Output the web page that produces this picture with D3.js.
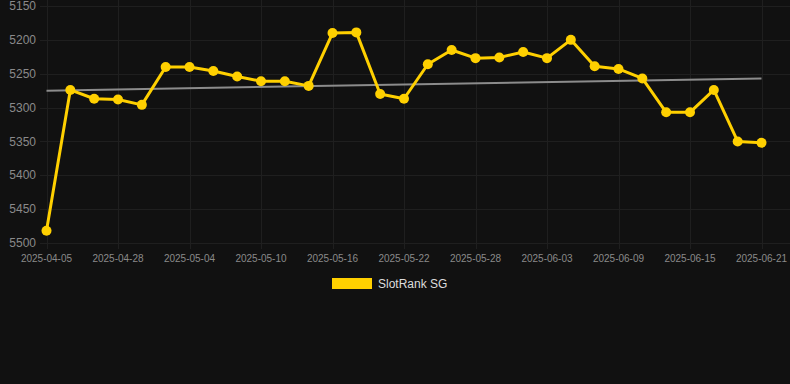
<!DOCTYPE html>
<html>
<head>
    <title>SlotRank SG</title>
    <script src="https://d3js.org/d3.v7.min.js"></script>
    <style>
        body {
            margin: 0;
            padding: 0;
            background: #111111;
            font-family: Arial, "Liberation Sans", sans-serif;
        }
        .grid line {
            stroke: #1f1f1f;
            stroke-width: 1;
        }
        .tick-label {
            fill: #8a8a8a;
        }
        .rank-line {
            fill: none;
            stroke: #ffd000;
            stroke-width: 3;
            stroke-linejoin: round;
        }
        .trend-line {
            stroke: #8c8c8c;
            stroke-width: 2;
        }
        .legend-label {
            fill: #dddddd;
            font-size: 12px;
        }
    </style>
</head>
<body>
    <svg id="chart" width="790" height="384"></svg>
    <script>
        // dates shown on the x axis (one per point)
        const dates = [
            '2025-04-05', '2025-04-24', '2025-04-26', '2025-04-28', '2025-04-30',
            '2025-05-02', '2025-05-04', '2025-05-06', '2025-05-08', '2025-05-10',
            '2025-05-12', '2025-05-14', '2025-05-16', '2025-05-18', '2025-05-20',
            '2025-05-22', '2025-05-24', '2025-05-26', '2025-05-28', '2025-05-30',
            '2025-06-01', '2025-06-03', '2025-06-05', '2025-06-07', '2025-06-09',
            '2025-06-11', '2025-06-13', '2025-06-15', '2025-06-17', '2025-06-19',
            '2025-06-21'
        ];
        // rank values (lower is better, axis reversed)
        const ranks = [
            5482, 5274, 5287, 5288, 5296,
            5240, 5240, 5246, 5254, 5261,
            5261, 5268, 5190, 5189, 5280,
            5287, 5236, 5215, 5227, 5226,
            5218, 5227, 5200, 5239, 5243,
            5257, 5307, 5307, 5274, 5350,
            5352
        ];
        // trend line, start and end values
        const trend = [5275, 5257];
        const yTicks = [5150, 5200, 5250, 5300, 5350, 5400, 5450, 5500];
        const seriesName = 'SlotRank SG';

        const svg = d3.select('#chart');
        const plotLeft = 40, plotRight = 790, plotTop = 6, plotBottom = 243;

        const x = d3.scalePoint()
            .domain(dates)
            .range([46.5, 761.5]);

        const y = d3.scaleLinear()
            .domain([5150, 5500])
            .range([plotTop, plotBottom]);

        // horizontal grid
        const grid = svg.append('g').attr('class', 'grid');
        grid.selectAll('line.h')
            .data(yTicks)
            .join('line')
            .attr('class', 'h')
            .attr('x1', plotLeft)
            .attr('x2', plotRight)
            .attr('y1', d => Math.round(y(d)) + 0.5)
            .attr('y2', d => Math.round(y(d)) + 0.5);

        // vertical grid at labelled dates (every 3rd)
        const shownDates = dates.filter((_, i) => i % 3 === 0);
        grid.selectAll('line.v')
            .data(shownDates)
            .join('line')
            .attr('class', 'v')
            .attr('x1', d => Math.round(x(d)) + 0.5)
            .attr('x2', d => Math.round(x(d)) + 0.5)
            .attr('y1', plotTop - 6)
            .attr('y2', plotBottom + 6);

        // y labels
        svg.append('g')
            .selectAll('text')
            .data(yTicks)
            .join('text')
            .attr('class', 'tick-label')
            .attr('x', 36)
            .attr('y', d => y(d))
            .attr('dy', '0.35em')
            .attr('text-anchor', 'end')
            .style('font-size', '12px')
            .text(d => d);

        // x labels
        svg.append('g')
            .selectAll('text')
            .data(shownDates)
            .join('text')
            .attr('class', 'tick-label')
            .attr('x', d => x(d))
            .attr('y', 262)
            .attr('text-anchor', 'middle')
            .style('font-size', '10px')
            .text(d => d);

        // trend line
        svg.append('line')
            .attr('class', 'trend-line')
            .attr('x1', x(dates[0]))
            .attr('x2', x(dates[dates.length - 1]))
            .attr('y1', y(trend[0]))
            .attr('y2', y(trend[1]));

        // rank line
        const line = d3.line()
            .x((d, i) => x(dates[i]))
            .y(d => y(d));

        svg.append('path')
            .datum(ranks)
            .attr('class', 'rank-line')
            .attr('d', line);

        svg.append('g')
            .selectAll('circle')
            .data(ranks)
            .join('circle')
            .attr('cx', (d, i) => x(dates[i]))
            .attr('cy', d => y(d))
            .attr('r', 5)
            .attr('fill', '#ffd000');

        // legend
        const legend = svg.append('g');
        legend.append('rect')
            .attr('x', 332)
            .attr('y', 278)
            .attr('width', 40)
            .attr('height', 11)
            .attr('fill', '#ffd000');
        legend.append('text')
            .attr('class', 'legend-label')
            .attr('x', 378)
            .attr('y', 288)
            .text(seriesName);
    </script>
</body>
</html>
